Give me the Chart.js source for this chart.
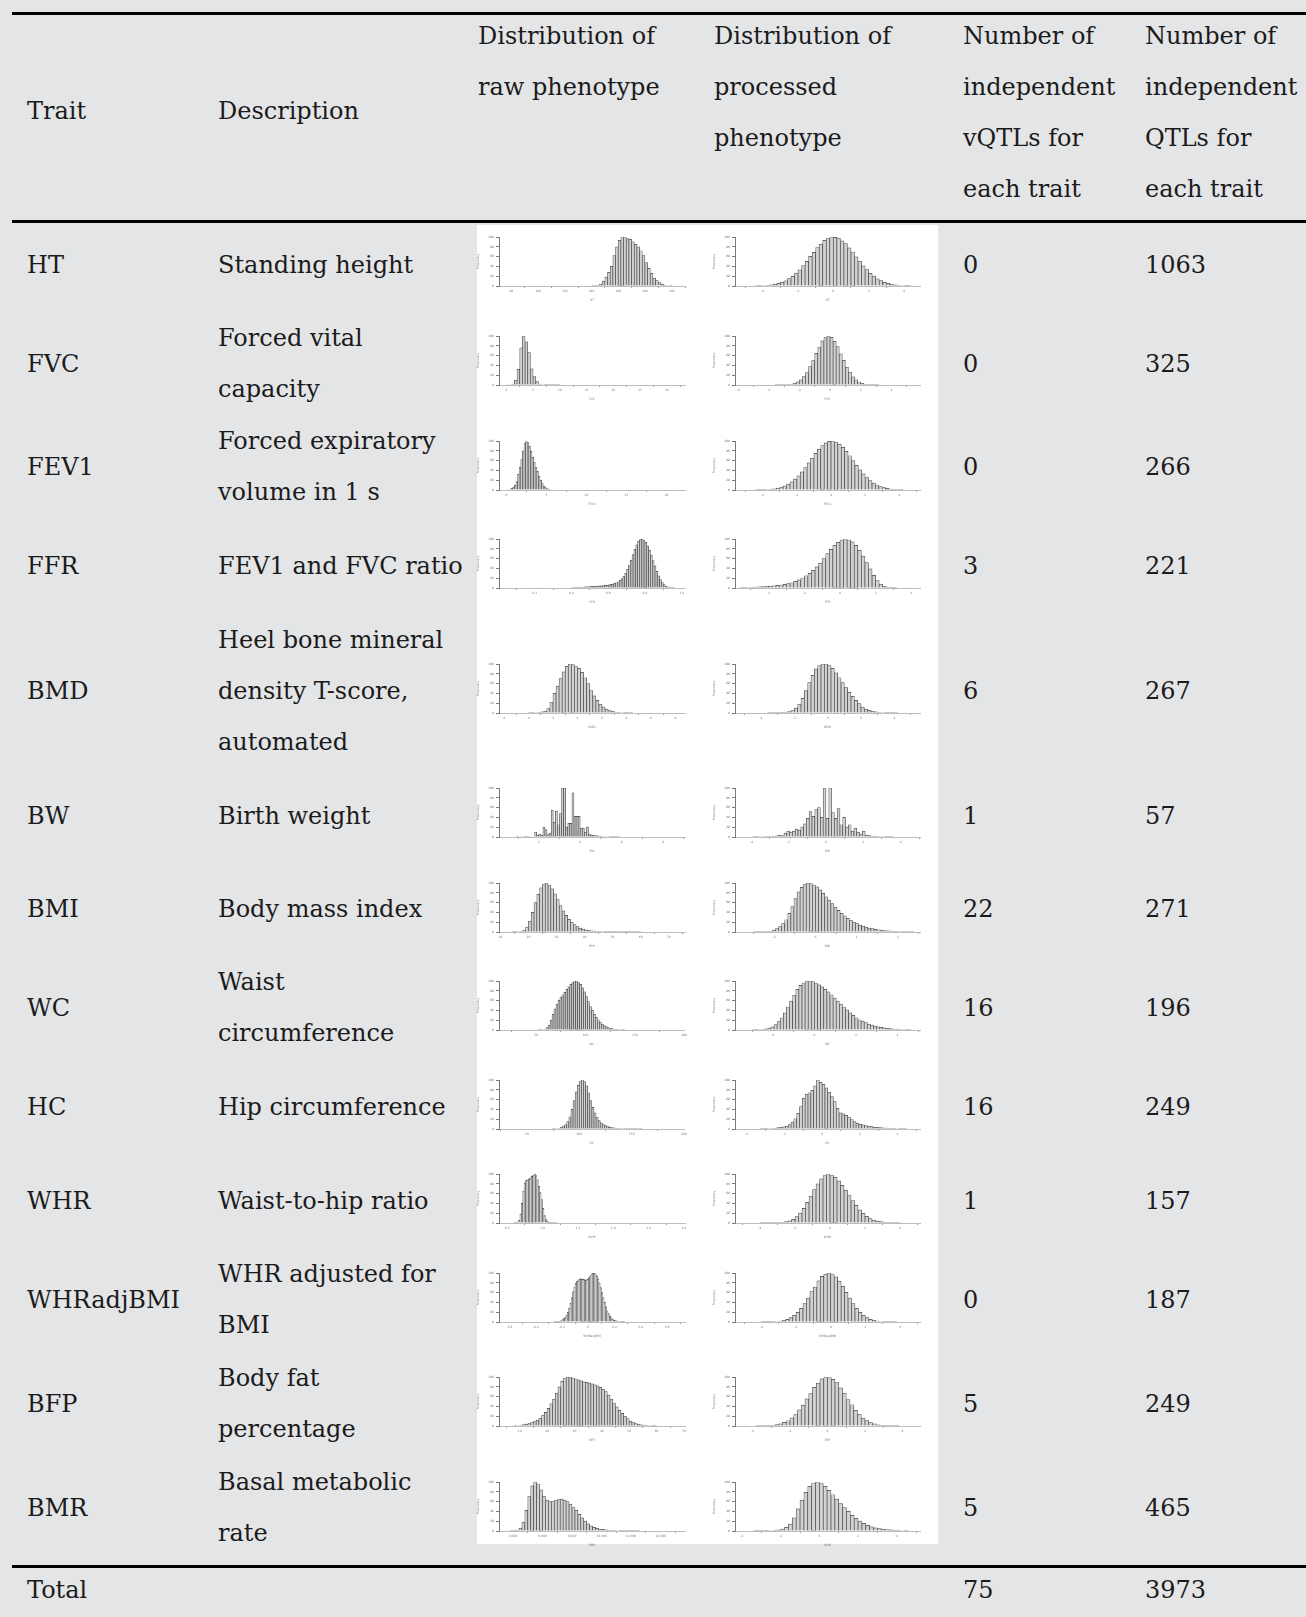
<!DOCTYPE html>
<html>
<head>
<meta charset="utf-8">
<script src="https://cdn.jsdelivr.net/npm/chart.js@4.4.1/dist/chart.umd.min.js"></script>
<style>
  html, body { margin: 0; padding: 0; }
  body {
    width: 1306px; height: 1617px; position: relative; overflow: hidden;
    background: #e4e5e7; color: #1b1b1b;
    font-family: "DejaVu Serif", "Liberation Serif", serif; font-size: 24px;
  }
  .rule { position: absolute; left: 12px; right: 0; height: 3px; background: #000; }
  .panel { position: absolute; left: 477px; top: 225px; width: 461px; height: 1319px; background: #fff; }
  .t { position: absolute; line-height: 51px; white-space: nowrap; }
  canvas.hist { position: absolute; filter: blur(0.55px); }
</style>
</head>
<body>
<div class="rule" style="top:12px"></div>
<div class="rule" style="top:220px"></div>
<div class="panel"></div>
<div class="rule" style="top:1565px"></div>

<script>
// ---- table content ----
const traits = ['HT', 'FVC', 'FEV1', 'FFR', 'BMD', 'BW', 'BMI', 'WC', 'HC', 'WHR', 'WHRadjBMI', 'BFP', 'BMR'];
const descriptions = [
  ['Standing height'],
  ['Forced vital', 'capacity'],
  ['Forced expiratory', 'volume in 1 s'],
  ['FEV1 and FVC ratio'],
  ['Heel bone mineral', 'density T-score,', 'automated'],
  ['Birth weight'],
  ['Body mass index'],
  ['Waist', 'circumference'],
  ['Hip circumference'],
  ['Waist-to-hip ratio'],
  ['WHR adjusted for', 'BMI'],
  ['Body fat', 'percentage'],
  ['Basal metabolic', 'rate']
];
const vqtlCounts = [0, 0, 0, 3, 6, 1, 22, 16, 16, 1, 0, 5, 5];
const qtlCounts = [1063, 325, 266, 221, 267, 57, 271, 196, 249, 157, 187, 249, 465];

// ---- histogram bin counts (relative frequency), raw and processed ----
const htRaw = [0.3,0.6,1.5,4,10,18,28,40,62,80,93,99,100,97,95,90,85,80,72,62,48,36,26,16,11,7,4,2,1,0.5];
const htProc = [0.4,0.6,1,1.6,2.3,3.7,5.2,7.9,10.6,15.2,19.6,26.4,33,41.9,50.1,60.3,68.7,78.6,85.7,93.1,96.8,100,99.4,97.6,92.3,86.5,77.8,69.4,59.5,50.8,41.2,33.6,25.7,20.2,14.7,11,7.6,5.4,3.5,2.4,1.5,1,0.6,0.4];
const fvcRaw = [1,1,2,10,32,76,100,88,66,33,17,7,2,1,0.5,0.3,0.2,0.2,0.1,0.1];
const fvcProc = [0.3,0.3,0.4,0.6,0.9,1.9,3.4,6.5,10.4,17.3,25.5,37.4,49.6,64.5,77.6,89.9,96.8,100,97.3,89.1,78.4,63.6,50.3,36.7,26.1,16.8,10.7,6.2,3.6,1.8,0.9,0.5,0.3,0.2];
const fev1Raw = [1,2,4,6,10,17,32,47,62,80,96,100,97,89,79,67,57,47,38,28,20,13,8,5,3,1.5,1];
const fev1Proc = [0.4,0.5,0.6,1,1.7,2.6,4,5.9,8.5,12.1,16.6,22.3,29,37,45.8,55.3,65,74.6,83.3,90.6,96.1,99.3,100,98,93.6,87.1,79,69.9,60.2,50.5,41.3,32.9,25.5,19.2,14.2,10.2,7.1,4.9,3.2,2.1,1.3,0.8,0.5];
const ffrRaw = [1.5,1.5,1.6,1.7,1.8,2,2.1,2.3,2.5,2.7,3,3.2,3.4,3.6,3.9,4.2,4.5,5,5.5,6,6.6,7.3,8.2,9.3,10.8,12.8,15.5,19,24,30,38,47,57,68,79,88,95,99,100,98,93,86,77,67,56,45,34,25,17,11,7,4,2.5,1.4,0.8,0.4];
const ffrProc = [0.5,0.8,1.1,1.5,2,2.5,2.9,3.4,4,4.6,5.3,6.2,7.3,8.8,10.8,13.5,16.5,20.5,25,30,36,43,51,60,70,79,87,93,98,100,98,94,87,77,65,52,39,26,15,8,3.5,1.5,0.6,0.2];
const bmdRaw = [0.5,0.7,1,1.5,2.2,4,9,22,40,55,70,84,95,100,99,96,91,83,72,60,46,35,26,18,12.5,8,5,3.3,2,1.4,1,0.7,0.5,0.4];
const bmdProc = [0.3,0.4,0.6,0.8,1.2,1.8,3,5,10,18,30,46,62,77,90,97,100,100,97,91,82,72,62,52,42,34,26,19,12,8,5.5,3.5,2.3,1.6,1.1,0.8,0.6,0.4,0.3];
const bwRaw = [2,1,1,1,2,1.5,1,1,1,10,4,6,4,20,15,5,8,55,30,53,25,48,100,100,20,28,28,90,42,42,42,18,18,10,20,6,4,3,3,2.5,2,1.5,1,1,1,1.5,0.5,0.5,0.5,0.3];
const bwProc = [0.5,0.5,1,1,0.8,1.5,2,1.5,2.5,4,3,8,12,10,12,16,14,20,27,38,52,42,56,60,40,100,38,100,50,38,58,25,40,20,25,12,18,10,6,12,4,3,2,2,1.5,1,1,0.5,0.5,0.3];
const bmiRaw = [0.3,0.5,1,2,4,10,22,40,60,77,90,98,100,96,88,78,66,54,43,34,26,20,15,11,8,6,4.5,3.3,2.5,2,1.5,1.2,1,0.8,0.6,0.5,0.4,0.3,0.3,0.2,0.2,0.2,0.1,0.1,0.1,0.1];
const bmiProc = [0.2,0.3,0.5,0.8,1.3,2,4,7,11,17,25,38,52,68,82,91,97,100,99,96,92,86,79,72,65,58,51,44,38,33,28,24,20,17,14,12,10,8,6.8,5.6,4.6,3.8,3.1,2.5,2,1.6,1.3,1,0.8,0.6,0.5,0.4];
const wcRaw = [0.3,0.5,1,2,5,10,20,32,43,53,61,67,72,77,83,88,93,97,100,99,97,93,86,78,68,58,48,40,32,26,21,16,12,9,7,5,3.5,2.7,2,1.5,1.2,1,0.7,0.5];
const wcProc = [0.4,0.6,1,1.6,2.5,4,6.5,11,17,25,35,47,59,71,83,91,96,99,100,99,96,92,88,83,78,72,65,59,53,47,41,35,30,25,21,18,15,12,10,8,6.5,5.2,4.2,3.4,2.7,2.1,1.7,1.3,1,0.8,0.6];
const hcRaw = [0.3,0.5,1,2,3.5,6,9,15,25,40,58,76,89,97,100,97,88,74,58,44,33,24,17,12.5,9,7,5,4,3,2.4,2,1.6,1.3,1.1,0.9,0.7,0.6,0.5,0.4,0.35,0.3,0.25,0.2];
const hcProc = [0.3,0.5,0.7,1,1.5,2,2.8,3.5,4.5,6,9,14,21,32,46,63,71,74,79,88,100,95,91,84,75,66,56,42,33,31,28,24,19,15,12,10,8.5,7,5.8,4.8,4,3.3,2.8,2.4,2,1.7,1.4,1.2,1,0.8,0.6,0.5];
const whrRaw = [0.3,0.8,2,6,18,40,65,82,87,88,90,92,95,98,100,97,88,75,62,48,30,15,7,3.5,2,1.2,0.7,0.4,0.3,0.2];
const whrProc = [0.3,0.4,0.6,0.9,1.2,1.5,2,3,4.5,7.5,13,20,30,42,55,68,80,90,97,100,98,93,86,77,67,56,46,36,27,19.5,13.5,9,6,4,2.7,1.8,1.2,0.8,0.5,0.3];
const whradjRaw = [0.3,0.5,0.8,1.2,2,3,5,7,10,14,20,28,38,50,62,72,79,83,86,88,88,87,87,86,86,87,90,94,98,100,100,98,94,88,80,70,60,50,40,31,23,17,12,8.5,6,4,3,2.2,1.6,1.1,0.8,0.6,0.4,0.3];
const whradjProc = [0.3,0.4,0.5,0.6,1.1,2,3.4,5.6,8.9,13.5,19.8,27.8,37.5,48.7,62,71,84,93,97.5,100,98,92,83.5,72.6,60.7,48.7,37.5,27.8,19.8,13.5,8.9,5.6,3.4,2,1.1,0.6,0.4,0.3,0.2];
const bfpRaw = [0.5,1,2,3,4,5,7,9,12,16,22,28,36,45,55,67,80,91,98,100,100,98,96,94,92,90,89,88,86,84,82,79,75,70,63,55,47,39,32,26,20,15,10,7,5,3.5,2.5,1.8,1.3,1,0.7,0.5];
const bfpProc = [0.3,0.4,0.5,0.8,1.4,2.7,4.3,7.3,10.8,16.7,23.2,33,42.5,55.2,66.1,79,87.6,96.2,99,100,95.1,88.7,77.8,67.2,54.1,43.4,32,24,16.1,11.2,6.9,4.5,2.5,1.5,0.8,0.5,0.4,0.3];
const bmrRaw = [0.3,0.8,2,6,18,42,70,92,100,96,84,71,63,60,60,62,64,65,63,60,55,49,42,34,27,20,14.5,10.5,7.5,5.5,4,3.2,2.5,2,1.6,1.3,1,0.8,0.7,0.5,0.4,0.3,0.2,0.2];
const bmrProc = [0.3,0.4,0.6,0.8,1.1,1.6,2.2,4,7.5,14,27,45,63,79,91,98,100,97,91,83,74,65,56,48,40,32,26,20,15.5,11.5,8.5,6.5,5,3.8,2.9,2.2,1.7,1.3,1,0.7];

// ---- x-axis tick labels ----
const sym4 = [-4, -2, 0, 2, 4];
const sym6 = [-6, -4, -2, 0, 2, 4, 6];
const skew4 = [-2, 0, 2, 4];
const htTicks = [80, 100, 120, 140, 160, 180, 200];
const fvcTicks = [0, 5, 10, 15, 20, 25, 30];
const fev1Ticks = [0, 5, 10, 15, 20];
const ffrTicks = [0.2, 0.4, 0.6, 0.8, 1.0];
const bmdTicks = [-6, -4, -2, 0, 2, 4, 6, 8];
const bwTicks = [2, 4, 6, 8];
const bmiTicks = [10, 20, 30, 40, 50, 60, 70];
const cmTicks = [50, 100, 150, 200];
const whrTicks = [0.5, 1.0, 1.5, 2.0, 2.5, 3.0];
const whradjTicks = [-0.6, -0.4, -0.2, 0, 0.2, 0.4, 0.6];
const bfpTicks = [10, 20, 30, 40, 50, 60, 70];
const bmrTicks = [4000, 6000, 8000, 10000, 12000, 14000];

// per trait: [raw, processed]; x0 = first bin start, w = bin width, min/max = axis range
const histograms = [
  [{counts: htRaw, x0: 140, w: 2, min: 70.75, max: 210, ticks: htTicks},
   {counts: htProc, x0: -4.4, w: 0.2, min: -5.57, max: 4.91, ticks: sym4}],
  [{counts: fvcRaw, x0: 0, w: 0.5, min: -1.375, max: 33.4, ticks: fvcTicks},
   {counts: fvcProc, x0: -3.6, w: 0.2, min: -6.2, max: 5.87, ticks: sym6}],
  [{counts: fev1Raw, x0: 0.2, w: 0.2, min: -0.92, max: 22.3, ticks: fev1Ticks},
   {counts: fev1Proc, x0: -4.4, w: 0.2, min: -5.62, max: 5.21, ticks: sym4}],
  [{counts: ffrRaw, x0: 0.40, w: 0.01, min: 0.0055, max: 1.018, ticks: ffrTicks},
   {counts: ffrProc, x0: -5.6, w: 0.2, min: -5.89, max: 4.49, ticks: sym4}],
  [{counts: bmdRaw, x0: -4.0, w: 0.25, min: -6.4, max: 8.77, ticks: bmdTicks},
   {counts: bmdProc, x0: -3.6, w: 0.2, min: -5.56, max: 5.54, ticks: sym4}],
  [{counts: bwRaw, x0: 0.9, w: 0.1, min: 0.08, max: 9.06, ticks: bwTicks},
   {counts: bwProc, x0: -3.9, w: 0.15, min: -4.875, max: 5.04, ticks: sym4}],
  [{counts: bmiRaw, x0: 14, w: 1, min: 9.52, max: 75.8, ticks: bmiTicks},
   {counts: bmiProc, x0: -3.0, w: 0.15, min: -3.92, max: 5.09, ticks: skew4}],
  [{counts: wcRaw, x0: 52, w: 2, min: 12.2, max: 200.3, ticks: cmTicks},
   {counts: wcProc, x0: -3.0, w: 0.15, min: -3.83, max: 5.09, ticks: skew4}],
  [{counts: hcRaw, x0: 74, w: 2, min: 23.4, max: 200, ticks: cmTicks},
   {counts: hcProc, x0: -3.3, w: 0.15, min: -4.62, max: 5.19, ticks: sym4}],
  [{counts: whrRaw, x0: 0.60, w: 0.02, min: 0.384, max: 3.016, ticks: whrTicks},
   {counts: whrProc, x0: -4.0, w: 0.2, min: -5.43, max: 5.14, ticks: sym4}],
  [{counts: whradjRaw, x0: -0.26, w: 0.01, min: -0.68, max: 0.736, ticks: whradjTicks},
   {counts: whradjProc, x0: -4.0, w: 0.2, min: -5.52, max: 5.15, ticks: sym4}],
  [{counts: bfpRaw, x0: 8, w: 1, min: 2.44, max: 70.4, ticks: bfpTicks},
   {counts: bfpProc, x0: -3.8, w: 0.2, min: -4.93, max: 4.93, ticks: sym4}],
  [{counts: bmrRaw, x0: 3800, w: 200, min: 3049, max: 15665, ticks: bmrTicks},
   {counts: bmrProc, x0: -3.4, w: 0.2, min: -4.36, max: 5.2, ticks: sym4}]
];

// ---- layout ----
const LINE = 51;
const rowCenters = [265, 364, 467, 566, 691, 816, 909, 1008, 1107, 1201, 1300, 1404, 1508];
const plotTops = [237, 336, 441, 539, 664, 788, 883, 981, 1080, 1174, 1273, 1377, 1482];
const colX = { trait: 27, desc: 218, raw: 478, proc: 714, vqtl: 963, qtl: 1145 };
const histCols = [{ left: 476, width: 212 }, { left: 712, width: 211 }];

function addText(lines, x, top) {
  const d = document.createElement('div');
  d.className = 't';
  d.style.left = x + 'px';
  d.style.top = top + 'px';
  lines.forEach((l, i) => {
    if (i) d.appendChild(document.createElement('br'));
    d.appendChild(document.createTextNode(l));
  });
  document.body.appendChild(d);
}
function addCentered(lines, x, center) {
  addText(lines, x, center - lines.length * LINE / 2);
}

// header
const headTop = 36 - LINE / 2;
addCentered(['Trait'], colX.trait, 111.5);
addCentered(['Description'], colX.desc, 111.5);
addText(['Distribution of', 'raw phenotype'], colX.raw, headTop);
addText(['Distribution of', 'processed', 'phenotype'], colX.proc, headTop);
addText(['Number of', 'independent', 'vQTLs for', 'each trait'], colX.vqtl, headTop);
addText(['Number of', 'independent', 'QTLs for', 'each trait'], colX.qtl, headTop);

// body rows
traits.forEach((t, i) => {
  const c = rowCenters[i];
  addCentered([t], colX.trait, c);
  addCentered(descriptions[i], colX.desc, c);
  addCentered([String(vqtlCounts[i])], colX.vqtl, c);
  addCentered([String(qtlCounts[i])], colX.qtl, c);
});

// totals
const totalCenter = 1590;
addCentered(['Total'], colX.trait, totalCenter);
addCentered([String(vqtlCounts.reduce((a, b) => a + b, 0))], colX.vqtl, totalCenter);
addCentered([String(qtlCounts.reduce((a, b) => a + b, 0))], colX.qtl, totalCenter);

// ---- histograms ----
const PLOT_H = 49, PAD_TOP = 5, X_AXIS_H = 16, Y_AXIS_W = 23;

function drawHist(h, title, col, plotTop) {
  const cv = document.createElement('canvas');
  cv.className = 'hist';
  const W = histCols[col].width, H = PLOT_H + PAD_TOP + X_AXIS_H;
  cv.width = W; cv.height = H;
  cv.style.left = histCols[col].left + 'px';
  cv.style.top = (plotTop - PAD_TOP) + 'px';
  cv.style.width = W + 'px'; cv.style.height = H + 'px';
  document.body.appendChild(cv);
  const peak = Math.max(...h.counts);
  const tiny = { size: 3, family: 'DejaVu Sans' };
  new Chart(cv.getContext('2d'), {
    type: 'bar',
    data: {
      datasets: [{
        data: h.counts.map((c, i) => ({ x: h.x0 + (i + 0.5) * h.w, y: c })),
        backgroundColor: '#d2d2d2',
        borderColor: '#4a4a4a',
        borderWidth: 0.7,
        borderSkipped: 'start',
        barPercentage: 1,
        categoryPercentage: 1
      }]
    },
    options: {
      responsive: false, animation: false, devicePixelRatio: 1,
      layout: { padding: { top: PAD_TOP, right: 3, left: 0, bottom: 0 } },
      plugins: { legend: { display: false }, tooltip: { enabled: false } },
      scales: {
        x: {
          type: 'linear', min: h.min, max: h.max, offset: false,
          afterBuildTicks: s => { s.ticks = h.ticks.filter(v => v >= h.min && v <= h.max).map(v => ({ value: v })); },
          afterFit: s => { s.height = X_AXIS_H; },
          grid: { drawOnChartArea: false, drawTicks: true, tickLength: 2, color: '#9a9a9a' },
          border: { display: true, color: '#bdbdbd', width: 1 },
          ticks: { font: tiny, color: '#7a7a7a', padding: 1, maxRotation: 0, autoSkip: false },
          title: { display: true, text: title, font: tiny, color: '#7a7a7a', padding: 0 }
        },
        y: {
          min: 0, max: peak,
          afterFit: s => { s.width = Y_AXIS_W; },
          grid: { drawOnChartArea: false, drawTicks: true, tickLength: 3, color: '#7a7a7a' },
          border: { display: true, color: '#7a7a7a', width: 1 },
          ticks: { font: tiny, color: '#6a6a6a', padding: 2, maxTicksLimit: 7 },
          title: { display: true, text: 'Frequency', font: tiny, color: '#7a7a7a', padding: 0 }
        }
      }
    }
  });
}

histograms.forEach((pair, i) => {
  drawHist(pair[0], traits[i], 0, plotTops[i]);
  drawHist(pair[1], traits[i], 1, plotTops[i]);
});
</script>
</body>
</html>
